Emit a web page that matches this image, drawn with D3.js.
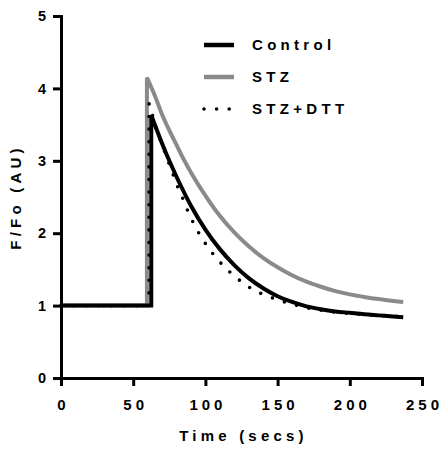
<!DOCTYPE html>
<html>
<head>
<meta charset="utf-8">
<script src="https://cdn.jsdelivr.net/npm/d3@7"></script>
<style>
  body { margin: 0; background: #fff; }
  text { font-family: "Liberation Sans", Arial, sans-serif; font-weight: bold; fill: #000; }
</style>
</head>
<body>
<div id="chart"></div>
<script>
// values (time in secs, F/Fo)
const controlTimes  = [0, 62.5, 62.5, 70, 75, 80, 90, 100, 110, 120, 130, 140, 150, 160, 170, 180, 190, 200, 210, 220, 230, 237];
const controlValues = [1.0, 1.0, 3.63, 3.24, 3.00, 2.78, 2.38, 2.05, 1.78, 1.56, 1.38, 1.24, 1.13, 1.05, 0.99, 0.95, 0.92, 0.90, 0.88, 0.865, 0.85, 0.84];

const stzTimes  = [0, 59.5, 59.5, 65, 70, 75, 80, 85, 90, 100, 110, 120, 130, 140, 150, 160, 170, 180, 190, 200, 210, 220, 230, 237];
const stzValues = [1.0, 1.0, 4.15, 3.90, 3.64, 3.42, 3.22, 3.02, 2.84, 2.52, 2.24, 2.01, 1.82, 1.66, 1.53, 1.42, 1.33, 1.26, 1.20, 1.155, 1.12, 1.09, 1.065, 1.05];

const dttTimes  = [0, 61, 61, 65, 68.6, 72, 75, 78, 81, 85, 88, 92, 97, 102, 107, 114, 120, 127, 134, 142, 151, 160, 168, 177, 190, 200, 210, 220, 230, 237];
const dttValues = [1.0, 1.0, 3.79, 3.52, 3.30, 3.11, 2.95, 2.79, 2.63, 2.45, 2.30, 2.13, 1.95, 1.80, 1.67, 1.52, 1.41, 1.30, 1.21, 1.14, 1.075, 1.02, 0.98, 0.945, 0.91, 0.89, 0.875, 0.865, 0.855, 0.85];

const xTicks = [0, 50, 100, 150, 200, 250];
const yTicks = [0, 1, 2, 3, 4, 5];
const seriesNames = ["Control", "STZ", "STZ+DTT"];

const width = 443, height = 450;
const margin = { top: 16, right: 21, bottom: 72, left: 61 };

const svg = d3.select("#chart").append("svg")
  .attr("width", width)
  .attr("height", height);

const x = d3.scaleLinear().domain([0, 250]).range([margin.left, width - margin.right]);
const y = d3.scaleLinear().domain([0, 5]).range([height - margin.bottom, margin.top]);

// step up is straight, decay is smooth
function seriesPath(times, values) {
  const pts = times.map((t, i) => [x(t), y(values[i])]);
  const peak = d3.maxIndex(values);
  const step = d3.line()(pts.slice(0, peak + 1));
  const decay = d3.line().curve(d3.curveMonotoneX)(pts.slice(peak));
  return step + decay.replace(/^M[^A-Za-z]*/, "");
}

const series = [
  { name: "STZ", times: stzTimes, values: stzValues, color: "#8a8a8a", dash: null },
  { name: "Control", times: controlTimes, values: controlValues, color: "#000", dash: null },
  { name: "STZ+DTT", times: dttTimes, values: dttValues, color: "#000", dash: "0,12.6" }
];

series.forEach(s => {
  svg.append("path")
    .attr("d", seriesPath(s.times, s.values))
    .attr("fill", "none")
    .attr("stroke", s.color)
    .attr("stroke-width", s.dash ? 3.6 : 4)
    .attr("stroke-linecap", s.dash ? "round" : "butt")
    .attr("stroke-linejoin", "miter")
    .attr("stroke-dasharray", s.dash);
});

// axes
const xAxis = svg.append("g")
  .attr("transform", `translate(0,${y(0)})`)
  .call(d3.axisBottom(x).tickValues(xTicks).tickSize(8).tickSizeOuter(0).tickPadding(13));

const yAxis = svg.append("g")
  .attr("transform", `translate(${x(0)},0)`)
  .call(d3.axisLeft(y).tickValues(yTicks).tickFormat(d3.format("d"))
    .tickSize(8).tickSizeOuter(0).tickPadding(7));

[xAxis, yAxis].forEach(g => {
  g.select(".domain").attr("stroke-width", 3).attr("stroke-linecap", "square");
  g.selectAll(".tick line").attr("stroke-width", 3);
  g.attr("font-family", null).attr("font-size", null);
});

xAxis.selectAll(".tick text")
  .attr("font-size", 15)
  .attr("letter-spacing", 4)
  .attr("dx", 2)
  .attr("dy", "0.71em");

yAxis.selectAll(".tick text")
  .attr("font-size", 14.5);

// axis titles
svg.append("text")
  .attr("x", (x(0) + x(250)) / 2 + 2)
  .attr("y", 441)
  .attr("text-anchor", "middle")
  .attr("font-size", 15)
  .attr("letter-spacing", 4.2)
  .text("Time (secs)");

svg.append("text")
  .attr("transform", "rotate(-90)")
  .attr("x", -197)
  .attr("y", 21)
  .attr("text-anchor", "middle")
  .attr("font-size", 15)
  .attr("letter-spacing", 4.2)
  .text("F/Fo (AU)");

// legend
const legendStyle = {
  "Control": { color: "#000", dash: null },
  "STZ": { color: "#8a8a8a", dash: null },
  "STZ+DTT": { color: "#000", dash: "0,12.6" }
};

const legend = svg.append("g");
seriesNames.forEach((name, i) => {
  const ly = 45 + i * 32;
  const st = legendStyle[name];
  legend.append("line")
    .attr("x1", 204).attr("x2", st.dash ? 232 : 234)
    .attr("y1", ly).attr("y2", ly)
    .attr("stroke", st.color)
    .attr("stroke-width", st.dash ? 3.6 : 4.5)
    .attr("stroke-linecap", st.dash ? "round" : "butt")
    .attr("stroke-dasharray", st.dash);
  legend.append("text")
    .attr("x", 252)
    .attr("y", ly)
    .attr("dy", "0.36em")
    .attr("font-size", 15)
    .attr("letter-spacing", 4.3)
    .text(name);
});
</script>
</body>
</html>
